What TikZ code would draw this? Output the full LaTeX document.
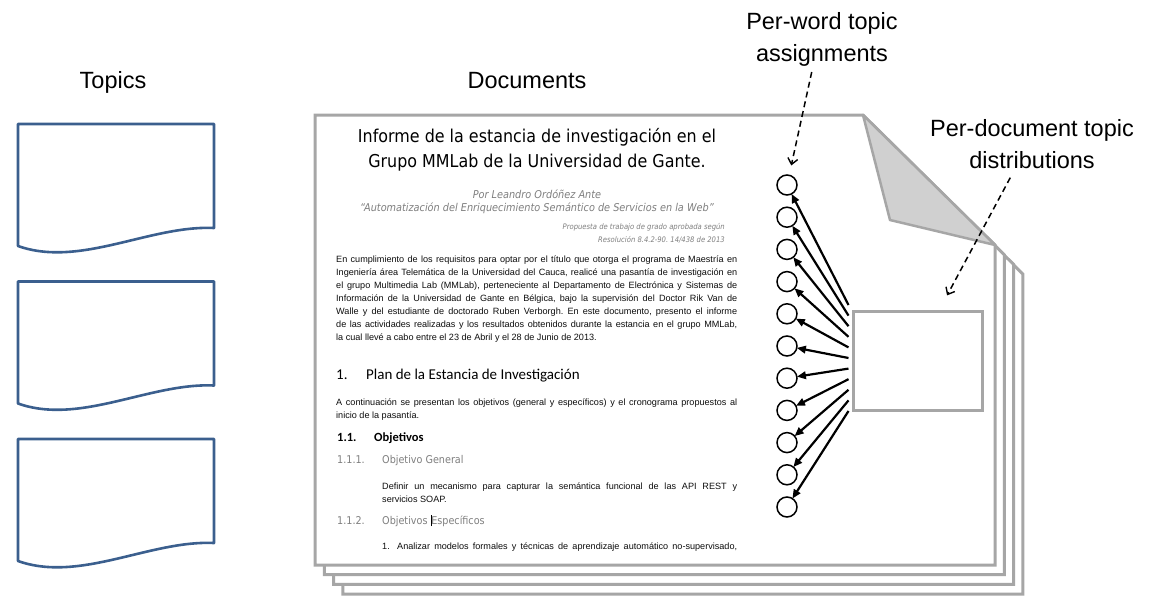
\documentclass[tikz,border=0pt]{standalone}
\usepackage{fontspec}
\setmainfont{Liberation Sans}
\newfontfamily\tahoma[FakeStretch=0.9]{DejaVu Sans}
\newfontfamily\calibri{Carlito}
\usetikzlibrary{positioning,arrows.meta,calc}
\definecolor{pagegray}{HTML}{A6A6A6}
\definecolor{flapgray}{HTML}{D0D0D0}
\definecolor{topicblue}{HTML}{3B5F8E}
\definecolor{textgray}{HTML}{7F7F7F}
\tolerance=9999
\frenchspacing
\tikzset{
  pagestyle/.style={draw=pagegray, line width=3pt, fill=white},
  flapstyle/.style={draw=pagegray, line width=2.5pt, fill=flapgray, line join=round},
  topicstyle/.style={draw=topicblue, line width=2.6pt, line join=round},
  wordnode/.style={circle, draw, line width=1.5pt, minimum size=20pt, inner sep=0pt, outer sep=0pt},
  thetabox/.style={draw=pagegray, line width=3pt, fill=white, minimum width=129pt, minimum height=99pt, inner sep=0pt},
  assignarrow/.style={-{Triangle[length=9pt,width=7.5pt]}, line width=2.2pt},
  pointerarrow/.style={-{Straight Barb[length=6pt,width=10pt,line width=1.4pt]}, line width=1.5pt, dash pattern=on 6pt off 4pt},
  biglabel/.style={font=\fontsize{23.5}{32}\selectfont, align=center, inner sep=0pt},
  bodytext/.style={font=\fontsize{9.1}{13}\selectfont, text=black!95, inner sep=0pt, anchor=north west, align=justify},
  headtext/.style={inner sep=0pt, anchor=base west},
  topicpage/.pic={
    \draw[topicstyle] (0,0) -- (196,0) -- (196,104) .. controls (132,101) and (62,144) .. (0,122) -- cycle;
  }
}

\begin{document}
\begin{tikzpicture}[x=1pt, y=-1pt]
  \useasboundingbox (0,0) rectangle (1157,605);

  % topics
  \node[biglabel, anchor=base] (topicslabel) at (113,88) {Topics};
  \foreach \t [count=\i] in {124,281.5,439}
    \pic (topic\i) at (18,\t) {topicpage};

  % stacked documents
  \node[biglabel, anchor=base] (docslabel) at (527,88) {Documents};
  \foreach \k in {3,2,1}
    \draw[pagestyle, shift={(9.3*\k,9.7*\k)}] (315,115) -- (863,115) -- (995,245) -- (995,565) -- (315,565) -- cycle;
  \draw[pagestyle] (315,115) -- (863,115) -- (995,245) -- (995,565) -- (315,565) -- cycle;
  \draw[flapstyle] (863,115) -- (890,220) -- (995,245) -- cycle;

  % page contents
  \node[font=\tahoma\fontsize{17.7}{25}\selectfont, align=center, inner sep=0pt, anchor=north] (title) at (537,128)
    {Informe de la estancia de investigación en el\\Grupo MMLab de la Universidad de Gante.};
  \node[font=\tahoma\itshape\fontsize{10.8}{13}\selectfont, text=textgray, align=center, inner sep=0pt, anchor=north] (author) at (537,189.5)
    {Por Leandro Ordóñez Ante\\“Automatización del Enriquecimiento Semántico de Servicios en la Web”};
  \node[font=\tahoma\itshape\fontsize{7.6}{13}\selectfont, text=textgray, align=right, inner sep=0pt, anchor=north east] (resol) at (725,223.5)
    {Propuesta de trabajo de grado aprobada según\\Resolución 8.4.2-90. 14/438 de 2013};
  \node[bodytext, text width=401pt] (intro) at (336,255.5)
    {En cumplimiento de los requisitos para optar por el título que otorga el programa de Maestría en \linebreak
     Ingeniería área Telemática de la Universidad del Cauca, realicé una pasantía de investigación en \linebreak
     el grupo Multimedia Lab (MMLab), perteneciente al Departamento de Electrónica y Sistemas de \linebreak
     Información de la Universidad de Gante en Bélgica, bajo la supervisión del Doctor Rik Van de \linebreak
     Walle y del estudiante de doctorado Ruben Verborgh. En este documento, presento el informe \linebreak
     de las actividades realizadas y los resultados obtenidos durante la estancia en el grupo MMLab, \linebreak
     la cual llevé a cabo entre el 23 de Abril y el 28 de Junio de 2013.};
  \node[headtext, font=\calibri\fontsize{15}{18}\selectfont] (plan) at (336,379)
    {\makebox[30pt][l]{1.}Plan de la Estancia de Investigación};
  \node[bodytext, text width=401pt] (cont) at (336,398.5)
    {A continuación se presentan los objetivos (general y específicos) y el cronograma propuestos al \linebreak
     inicio de la pasantía.};
  \node[headtext, font=\calibri\bfseries\fontsize{12.5}{15}\selectfont] (obj) at (337,441)
    {\makebox[37pt][l]{1.1.}Objetivos};
  \node[headtext, font=\tahoma\fontsize{10.7}{13}\selectfont, text=textgray] (objgen) at (337,463)
    {\makebox[45pt][l]{1.1.1.}Objetivo General};
  \node[bodytext, text width=355pt] (general) at (382,482.5)
    {Definir un mecanismo para capturar la semántica funcional de las API REST y \linebreak servicios SOAP.};
  \node[headtext, font=\tahoma\fontsize{10.7}{13}\selectfont, text=textgray] (objesp) at (337,524)
    {\makebox[45pt][l]{1.1.2.}Objetivos \textcolor{black}{\rule[-2pt]{1.2pt}{11pt}}\hspace{-0.5pt}Específicos};
  \node[headtext, font=\fontsize{9.1}{13}\selectfont, text=black!95] (item) at (382,549)
    {\makebox[15pt][l]{1.}\makebox[340pt][s]{Analizar modelos formales y técnicas de aprendizaje automático no-supervisado,}};

  % topic proportions and word assignments
  \node[thetabox] (box) at (917.5,360.5) {};
  \foreach \k in {0,...,10} {
    \node[wordnode] (c\k) at (787,185+32.2*\k) {};
    \draw[assignarrow] ($(box.west)+(-3,-55.5+10.6*\k)$) -- (c\k);
  }

  \node[biglabel] (wordlabel) at (822,39) {Per-word topic\\assignments};
  \node[biglabel] (doclabel) at (1032,144) {Per-document topic\\distributions};
  \draw[pointerarrow, shorten <=6pt, shorten >=10pt] ([xshift=-9pt]wordlabel.south) -- (c0);
  \draw[pointerarrow, shorten <=10pt, shorten >=16pt] ([xshift=-17pt]doclabel.south) -- ([xshift=22pt]box.north);
\end{tikzpicture}
\end{document}
